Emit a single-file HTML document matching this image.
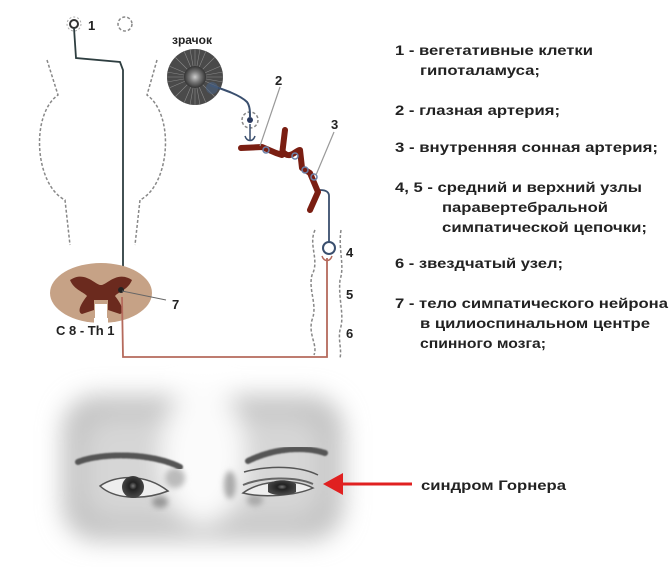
<!DOCTYPE html>
<html><head><meta charset="utf-8"><style>
html,body{margin:0;padding:0;background:#fff;}
svg{display:block;}
text{font-family:"Liberation Sans",Arial,sans-serif;font-weight:bold;fill:#222;}
</style></head><body>
<svg width="670" height="567" viewBox="0 0 670 567" xmlns="http://www.w3.org/2000/svg">
<defs>
<radialGradient id="pup" cx="50%" cy="50%" r="50%">
<stop offset="0" stop-color="#ccc"/><stop offset="0.5" stop-color="#777"/><stop offset="1" stop-color="#333"/>
</radialGradient>
<filter id="bl" x="-20%" y="-20%" width="140%" height="140%"><feGaussianBlur stdDeviation="12"/></filter>
<filter id="bl2"><feGaussianBlur stdDeviation="3"/></filter>
<filter id="bl1"><feGaussianBlur stdDeviation="0.8"/></filter>
<radialGradient id="iris" cx="50%" cy="45%" r="50%"><stop offset="0" stop-color="#777"/><stop offset="0.35" stop-color="#222"/><stop offset="1" stop-color="#444"/></radialGradient>
</defs>

<g fill="none" stroke="#888" stroke-width="1.5" stroke-dasharray="3,2">
<path d="M47,60 L58,95 C30,115 35,185 65,200 L70,245"/>
<path d="M157,60 L147,95 C175,115 170,185 140,200 L135,245"/>
<circle cx="125" cy="24" r="7"/>
<path d="M315,230 C308,245 320,260 312,275 C308,290 318,305 312,320 C308,335 318,345 314,355"/>
<path d="M341,230 C338,250 345,265 340,280 C338,300 345,315 340,330 C338,340 342,350 340,358"/>
<circle cx="250" cy="120" r="8"/>
</g>

<circle cx="74" cy="24" r="7" fill="none" stroke="#aaa" stroke-width="1" stroke-dasharray="2,2"/>
<circle cx="74" cy="24" r="4" fill="#fff" stroke="#333" stroke-width="2"/>
<path d="M74,28 L76,58 L120,62 L123,70 L123,290" fill="none" stroke="#2e3e40" stroke-width="1.8"/>

<ellipse cx="101" cy="293" rx="51" ry="30" fill="#c6a286"/>
<path d="M70,280 C85,270 95,285 101,285 C107,285 117,270 132,280 C128,290 118,292 115,296 C122,305 125,312 120,314 L108,310 L108,300 L94,300 L94,310 L82,314 C77,312 80,305 87,296 C84,292 74,290 70,280Z" fill="#6b2a1e"/>
<rect x="95" y="304" width="12" height="20" fill="#fff"/>
<rect x="94" y="318" width="14" height="6" fill="#fff"/>
<circle cx="121" cy="290" r="3" fill="#222"/>
<line x1="122" y1="291" x2="166" y2="300" stroke="#666" stroke-width="1"/>

<path d="M122,297 L123,357 L327,357 L327,258" fill="none" stroke="#b56a5c" stroke-width="1.8"/>
<path d="M322,256 C324,262 330,262 332,256" fill="none" stroke="#b56a5c" stroke-width="1.5"/>
<circle cx="329" cy="248" r="6" fill="#fff" stroke="#3a4f6e" stroke-width="2"/>
<path d="M329,242 L329,196 C329,192 326,190 320,190" fill="none" stroke="#3a4f6e" stroke-width="1.8"/>

<circle cx="195" cy="77" r="28" fill="#4a4a4a"/>
<g stroke="#8a8a8a" stroke-width="0.6">
<path d="M195,49 L195,105 M167,77 L223,77 M175,57 L215,97 M215,57 L175,97 M184,51 L206,103 M206,51 L184,103 M169,66 L221,88 M221,66 L169,88 M190,49 L200,105 M200,49 L190,105 M167,72 L223,82 M167,82 L223,72"/>
</g>
<circle cx="195" cy="77" r="11" fill="url(#pup)"/>
<path d="M210,85 C225,90 240,95 247,102 C250,106 250,112 250,117" fill="none" stroke="#3a4f6e" stroke-width="2"/>
<circle cx="212" cy="88" r="6" fill="#4a6080" opacity="0.6"/>
<circle cx="250" cy="120" r="3" fill="#2a3a60"/>
<path d="M250,124 L250,140 M245,136 C247,142 253,142 255,136" fill="none" stroke="#3a4f6e" stroke-width="1.5"/>

<path d="M241,148 L262,147 L276,153 L282,155 L285,130 M283,152 C290,160 296,150 300,150 L302,168 L310,173 L318,192 L310,210" fill="none" stroke="#7a1e12" stroke-width="6" stroke-linecap="round" stroke-linejoin="round"/>
<g fill="none" stroke="#6a80a8" stroke-width="1.5">
<circle cx="266" cy="150" r="3"/><circle cx="295" cy="156" r="3"/><circle cx="305" cy="170" r="3"/><circle cx="314" cy="177" r="3"/>
</g>
<line x1="260" y1="146" x2="280" y2="87" stroke="#999" stroke-width="1.2"/>
<line x1="316" y1="175" x2="334" y2="132" stroke="#999" stroke-width="1.2"/>

<text x="88" y="30" font-size="13">1</text>
<text x="172" y="44" font-size="12">зрачок</text>
<text x="275" y="85" font-size="13">2</text>
<text x="331" y="129" font-size="13">3</text>
<text x="346" y="257" font-size="13">4</text>
<text x="346" y="299" font-size="13">5</text>
<text x="346" y="338" font-size="13">6</text>
<text x="172" y="309" font-size="13">7</text>
<text x="56" y="335" font-size="13">С 8 - Th 1</text>

<g font-size="13.5">
<text x="395" y="55" textLength="198" lengthAdjust="spacingAndGlyphs">1 - вегетативные клетки</text>
<text x="420" y="75" textLength="120" lengthAdjust="spacingAndGlyphs">гипоталамуса;</text>
<text x="395" y="115" textLength="165" lengthAdjust="spacingAndGlyphs">2 - глазная артерия;</text>
<text x="395" y="152" textLength="263" lengthAdjust="spacingAndGlyphs">3 - внутренняя сонная артерия;</text>
<text x="395" y="192" textLength="247" lengthAdjust="spacingAndGlyphs">4, 5 - средний и верхний узлы</text>
<text x="442" y="212" textLength="166" lengthAdjust="spacingAndGlyphs">паравертебральной</text>
<text x="442" y="232" textLength="205" lengthAdjust="spacingAndGlyphs">симпатической цепочки;</text>
<text x="395" y="268" textLength="168" lengthAdjust="spacingAndGlyphs">6 - звездчатый узел;</text>
<text x="395" y="308" textLength="273" lengthAdjust="spacingAndGlyphs">7 - тело симпатического нейрона</text>
<text x="420" y="328" textLength="230" lengthAdjust="spacingAndGlyphs">в цилиоспинальном центре</text>
<text x="420" y="348" textLength="126" lengthAdjust="spacingAndGlyphs">спинного мозга;</text>
<text x="421" y="490" textLength="145" lengthAdjust="spacingAndGlyphs">синдром Горнера</text>
</g>

<!-- face -->
<g filter="url(#bl)">
<rect x="62" y="395" width="282" height="146" rx="35" fill="#c4c4c4"/>
<rect x="85" y="418" width="236" height="100" rx="30" fill="#d6d6d6"/>
<ellipse cx="203" cy="455" rx="42" ry="70" fill="#fbfbfb"/>
</g>
<g filter="url(#bl2)">
<ellipse cx="160" cy="502" rx="8" ry="6" fill="#999"/>
<ellipse cx="230" cy="485" rx="6" ry="14" fill="#aaa"/>
<ellipse cx="255" cy="500" rx="8" ry="6" fill="#aaa"/>
<ellipse cx="175" cy="478" rx="10" ry="10" fill="#bbb"/>
</g>
<g filter="url(#bl1)">
<path d="M78,462 C100,453 150,452 180,467" fill="none" stroke="#555" stroke-width="6" stroke-linecap="round" stroke-dasharray="3,1.5"/>
<path d="M248,461 C270,450 300,445 325,453" fill="none" stroke="#555" stroke-width="6" stroke-linecap="round" stroke-dasharray="3,1.5"/>
</g>
<path d="M100,486 C115,475 145,473 168,491 C145,500 115,500 100,486Z" fill="#eee" stroke="#555" stroke-width="1.5"/>
<circle cx="133" cy="487" r="11" fill="url(#iris)"/>
<path d="M244,472 C270,465 300,466 318,475" fill="none" stroke="#555" stroke-width="1.5"/>
<path d="M243,493 C260,480 295,478 313,488 C295,496 262,498 243,493Z" fill="#eee" stroke="#555" stroke-width="1.5"/>
<path d="M268,484 C275,479 290,479 296,484 L296,492 C288,496 274,496 268,492Z" fill="url(#iris)"/>
<path d="M243,485 C262,477 295,476 313,484" fill="none" stroke="#666" stroke-width="2"/>

<line x1="412" y1="484" x2="340" y2="484" stroke="#e02020" stroke-width="3"/>
<polygon points="323,484 343,473 343,495" fill="#e02020"/>
</svg>
</body></html>
